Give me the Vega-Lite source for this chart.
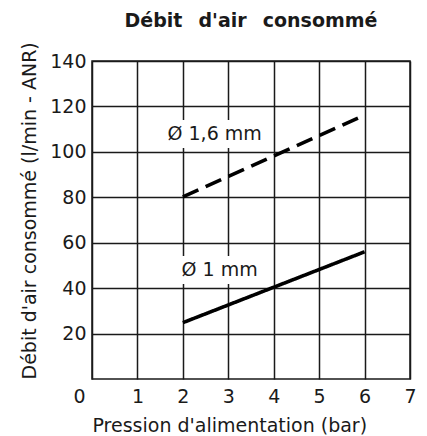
{
  "$schema": "https://vega.github.io/schema/vega-lite/v6.json",
  "width": 318,
  "height": 318,
  "autosize": "none",
  "padding": {"left": 92, "top": 61, "right": 17, "bottom": 57},
  "background": "white",
  "config": {"view": {"stroke": "#1a1a1a", "strokeWidth": 1.5}, "font": "DejaVu Sans"},
  "title": {"text": "Débit \u2002d'air \u2002consommé", "fontSize": 19, "fontWeight": "bold", "font": "DejaVu Sans", "color": "#1a1a1a", "anchor": "middle", "baseline": "alphabetic", "offset": -4},
  "datasets": {
    "lines": [
      {"diametre": "1 mm", "pression": 2, "debit": 24.8},
      {"diametre": "1 mm", "pression": 6, "debit": 56},
      {"diametre": "1,6 mm", "pression": 2, "debit": 80.2},
      {"diametre": "1,6 mm", "pression": 6, "debit": 116.2}
    ],
    "labels": [
      {"texte": "Ø 1,6 mm", "pression": 2.7, "debit": 107.9},
      {"texte": "Ø 1 mm", "pression": 2.81, "debit": 48}
    ]
  },
  "encoding": {
    "x": {
      "field": "pression", "type": "quantitative",
      "scale": {"domain": [0, 7], "nice": false},
      "axis": {
        "values": [0, 1, 2, 3, 4, 5, 6, 7],
        "grid": true, "gridColor": "#1a1a1a", "gridWidth": 1.5, "gridOpacity": 1,
        "ticks": false, "domain": false, "labelFlush": false,
        "labelFontSize": 19, "labelColor": "#1a1a1a", "labelPadding": 8,
        "labelOffset": {"condition": {"test": "datum.value == 0", "value": -13}, "value": 0},
        "title": "Pression d'alimentation (bar)", "titleFontSize": 19, "titleFontWeight": "normal",
        "titleColor": "#1a1a1a", "titleAnchor": "start", "titleAlign": "left", "titleBaseline": "alphabetic", "titleY": 52
      }
    },
    "y": {
      "field": "debit", "type": "quantitative",
      "scale": {"domain": [0, 140], "nice": false},
      "axis": {
        "values": [20, 40, 60, 80, 100, 120, 140],
        "grid": true, "gridColor": "#1a1a1a", "gridWidth": 1.5, "gridOpacity": 1,
        "ticks": false, "domain": false,
        "labelFontSize": 19, "labelColor": "#1a1a1a", "labelPadding": 6,
        "title": "Débit d'air consommé (l/min - ANR)", "titleFontSize": 19, "titleFontWeight": "normal",
        "titleColor": "#1a1a1a", "titleAnchor": "start", "titleAngle": -90, "titleAlign": "left",
        "titleBaseline": "alphabetic", "titleX": -57
      }
    }
  },
  "layer": [
    {
      "data": {"name": "lines"},
      "mark": {"type": "line", "color": "black", "strokeWidth": 3.6, "strokeCap": "butt"},
      "encoding": {
        "detail": {"field": "diametre"},
        "strokeDash": {
          "field": "diametre", "type": "nominal",
          "scale": {"domain": ["1 mm", "1,6 mm"], "range": [[1, 0], [17, 8]]},
          "legend": null
        }
      }
    },
    {
      "data": {"name": "labels"},
      "mark": {"type": "point", "shape": "M-1,-0.28H1V0.28H-1Z", "size": 10000, "filled": true, "color": "white", "opacity": 1}
    },
    {
      "data": {"name": "labels"},
      "mark": {"type": "text", "fontSize": 19, "font": "DejaVu Sans", "color": "#1a1a1a", "align": "center", "baseline": "middle"},
      "encoding": {
        "text": {"field": "texte"}
      }
    }
  ]
}
